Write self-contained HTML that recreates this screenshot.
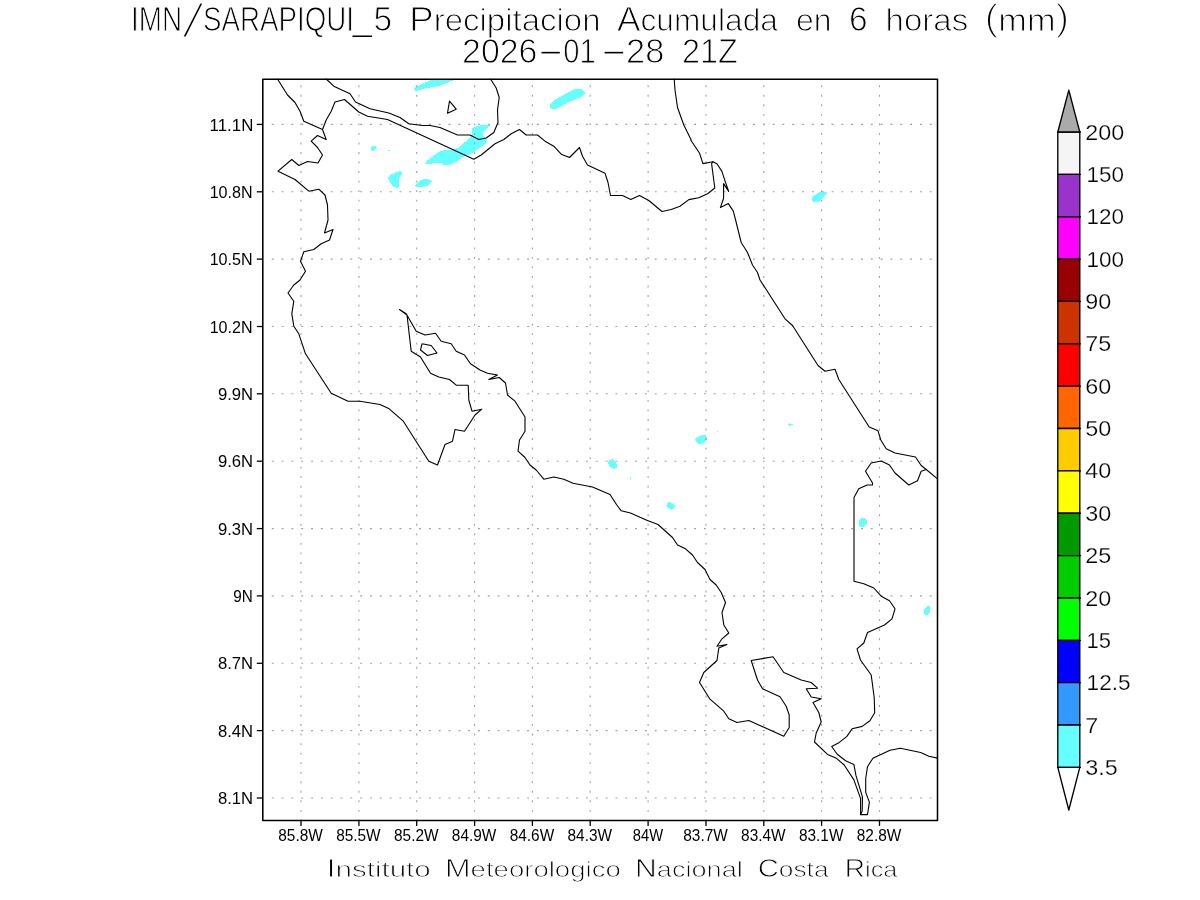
<!DOCTYPE html>
<html lang="es"><head><meta charset="utf-8"><title>IMN/SARAPIQUI_5 Precipitacion Acumulada en 6 horas (mm) 2026-01-28 21Z</title>
<style>
html,body{margin:0;padding:0;background:#fff;}
body{width:1200px;height:900px;overflow:hidden;}
svg{display:block;}
text{font-family:"Liberation Sans",sans-serif;}
</style></head><body>
<svg width="1200" height="900" viewBox="0 0 1200 900">
<rect width="1200" height="900" fill="#fff"/>
<g fill="#66ffff" shape-rendering="crispEdges">
<polygon points="413.75,89.2 415.8,87.1 420.8,84.6 425.8,82.3 431.25,80.2 453.3,80.2 446.7,83.3 440,85.4 433.3,87.1 427.5,87.9 420.8,89.8 416.7,90.8 414.6,90.4"/>
<polygon points="425,164.5 426.5,161 432,157 438,152.5 444,150 452,149.8 459,147.5 465,142 470.5,137 472,135 472.2,128.5 476,126.5 481,125.2 490,125 487,128.5 483,133 483.5,136 487,139.5 485.5,143.5 480,147.5 474,152 468,155 462,157.5 456,162 451,164.5 447.5,165.5 443,164.5 441,163 434,163 429,164"/>
<polygon points="388,178 390,175 396,172.5 400.5,171 402,173 401.5,175.5 399,179 398.5,187 397,187.8 393,186.5 390,182.5"/>
<polygon points="415,186 417.5,183 421,180 425,179 429,179.2 432,181.5 430,184 427,186.2 421,186.8 416.5,186.8"/>
<polygon points="371,147.3 372.1,146 375.8,146 377.1,147.5 375,149.8 372.9,150.8 372.1,150.8 371,149.6"/>
<polygon points="388,150 390,150 390,151 388,151"/>
<polygon points="550,104.5 554.5,100 569,92 575,89 581,89 586,93.25 581,97 574,100 568,102 562,106 556,109 552,109 550,107.5"/>
<polygon points="812,198.2 813,196.2 816,194.2 820,192 827,192 827,193.3 825,196 823,197.7 820,200.7 818,201.8 813.3,201.8 812,200.7"/>
<polygon points="695.3,439.7 697.8,437 701.7,435.2 706.1,435.2 707,438.9 705,441.7 701.7,443.7 698.3,443.7 696.1,442.2"/>
<polygon points="608,462.8 609.4,460 612.2,459.2 615,461.7 616.9,464.4 616.7,467.8 613.9,468.9 611.1,468.1 609.4,465.6"/>
<polygon points="666.1,505.6 667.2,502.8 670,502 672.8,503.3 675,506.1 673.9,508.3 671.1,509.8 668.3,508.3"/>
<polygon points="630,477 631,477 631,479 630,479"/>
<polygon points="717,431 718,431 718,432 717,432"/>
<polygon points="788,424 789,424 789,423 790,423 790,424 793,424 793,425 791,425 791,426 789,426 789,425 788,425"/>
<polygon points="859,520.25 861,518 865,518 867,520.25 867,522.75 866,524.75 863.75,527 860,527 859,525"/>
<polygon points="924,609 927,606 929,606 930,607 930,611.75 929,614 927,615 925,615 924,613.75"/>
</g>
<g stroke="#a0a0a0" stroke-width="1.1" fill="none">
<line x1="271.8" y1="124.4" x2="937.5" y2="124.4" stroke-dasharray="1.9 7.92"/>
<line x1="271.8" y1="191.8" x2="937.5" y2="191.8" stroke-dasharray="1.9 7.92"/>
<line x1="271.8" y1="259.1" x2="937.5" y2="259.1" stroke-dasharray="1.9 7.92"/>
<line x1="271.8" y1="326.5" x2="937.5" y2="326.5" stroke-dasharray="1.9 7.92"/>
<line x1="271.8" y1="393.8" x2="937.5" y2="393.8" stroke-dasharray="1.9 7.92"/>
<line x1="271.8" y1="461.2" x2="937.5" y2="461.2" stroke-dasharray="1.9 7.92"/>
<line x1="271.8" y1="528.6" x2="937.5" y2="528.6" stroke-dasharray="1.9 7.92"/>
<line x1="271.8" y1="595.9" x2="937.5" y2="595.9" stroke-dasharray="1.9 7.92"/>
<line x1="271.8" y1="663.3" x2="937.5" y2="663.3" stroke-dasharray="1.9 7.92"/>
<line x1="271.8" y1="730.6" x2="937.5" y2="730.6" stroke-dasharray="1.9 7.92"/>
<line x1="271.8" y1="798.0" x2="937.5" y2="798.0" stroke-dasharray="1.9 7.92"/>
<line x1="301.0" y1="85.3" x2="301.0" y2="820.4" stroke-dasharray="1.9 7.634"/>
<line x1="358.9" y1="85.3" x2="358.9" y2="820.4" stroke-dasharray="1.9 7.634"/>
<line x1="416.7" y1="85.3" x2="416.7" y2="820.4" stroke-dasharray="1.9 7.634"/>
<line x1="474.6" y1="85.3" x2="474.6" y2="820.4" stroke-dasharray="1.9 7.634"/>
<line x1="532.4" y1="85.3" x2="532.4" y2="820.4" stroke-dasharray="1.9 7.634"/>
<line x1="590.2" y1="85.3" x2="590.2" y2="820.4" stroke-dasharray="1.9 7.634"/>
<line x1="648.1" y1="85.3" x2="648.1" y2="820.4" stroke-dasharray="1.9 7.634"/>
<line x1="706.0" y1="85.3" x2="706.0" y2="820.4" stroke-dasharray="1.9 7.634"/>
<line x1="763.8" y1="85.3" x2="763.8" y2="820.4" stroke-dasharray="1.9 7.634"/>
<line x1="821.6" y1="85.3" x2="821.6" y2="820.4" stroke-dasharray="1.9 7.634"/>
<line x1="879.5" y1="85.3" x2="879.5" y2="820.4" stroke-dasharray="1.9 7.634"/>
</g>
<g fill="none" stroke="#000" stroke-width="1.1" stroke-linejoin="round" stroke-linecap="round">
<polyline points="277.5,79 287.5,95 295,102.5 300,111.2 303.8,121.2 322.5,129.5 326.2,139.5 317.5,135.5 311.2,141.2 317.5,147.5 322.5,155 318,163 307.5,161.5 298.8,165.5 291.8,159.5 278,171.2 295,179.5 308.8,191.2 318.8,189.2 325,195 327.5,205 328,220 324.5,233 333,229.5 329.5,240 321.2,243.8 313.8,249.5 303.8,251.8 300.5,261.2 305.5,271.2 300,280 293.8,285 288,293 293.8,301.2 291.8,313.8 293.8,326.2 298.8,333.8 305.5,353.8 331.2,393.2 348,401.2 360,401.2 380,404.5 389.2,408.8 403,420.8 428.8,461.2 437.5,465 445,444.5 452.5,441.2 455,429.5 464.5,431.2 475,415 481.8,409.2 472,411.2 468.8,400 468.2,385.2 456.2,385.2 449.5,379.5 438.8,377 430.5,373.2 420.5,357 411.2,351.2 407,315 399.5,309.5 406.2,313.8 416.2,331.2 425,335 435.5,333.2 441.2,341.2 451.2,343.8 456.2,351.2 464.5,355 470.5,363.8 480,370 487.5,373.2 497.5,375 488.8,379.5 499.2,377.5 505.5,383 507.5,395 515,401.2 525,417 525,431.2 519.5,440 518,451.2 525,457.5 530,465 536.2,470 543.8,479.2 553.8,477 563.8,479.2 573,483.2 592.5,487 610,494.5 616.8,505 621.2,510.8 630.5,513 646.2,520 658,524.5 672.5,537.5 677.5,545 685.5,548.8 692.5,555 697.5,562.5 705,569.5 710,579.5 716.2,585 721.2,592.5 725.5,602.5 722,612.5 723.8,625 728.8,633 722,638.8 717,646.2 727,644.5 718.8,648 717,660.5 703.8,672.5 699.5,682.5 710,699.2 723.8,711.2 728.8,718.8 737,722.5 748.8,720.5 783.8,736.2 789.2,727.5 789.2,715 786.2,706.2 780,696.8 762.5,688.8 757.5,680 751.2,660.5 773,656.8 783.8,672.5 801.2,680 811.2,682.5 817.5,688.2 806.2,688.8 811.2,697 821.2,698.8 813,702.5 818.8,712.5 821.2,722 816.2,733 814.5,742 827.5,754.4 836.5,758.3 844.2,765 853.9,779.9 860.6,798.6 860.6,814.6 867.5,814.6 869.4,802.1 865.7,792.4 865.7,778.5 867.5,766.7 872.9,758.3 890,750.3 900.4,748.3 920.6,752.5 928.9,756.2 937.5,758.1"/>
<polyline points="326.2,79 333.8,86.2 350,93.8 355.5,102 370,108.8 388.8,113 400,117.5 408.8,123.8 422.5,125.5 430,125.5 440,127.5 457.5,135 470,135 478.8,139.5 486.2,138 493.8,132.5 498,122.5 497.5,110 499.2,97.5 496.2,88 490.5,79"/>
<polyline points="322.5,129.5 326.2,120 331.2,111.2 335,102 344.5,99.5 358.8,112 367.5,116.2 387.5,119.5 473.8,159.2 481.2,155 495,143.8 503.8,139.5 511.2,133.8 519.5,129.5 526.2,135 537.5,135 545,141.2 553.8,146.2 561.2,154.2 569.5,157.5 579.5,147.5 582.5,156.2 587.5,165 605,173.2 608,182.5 610.5,195.5 622.5,195.5 630.8,199.5 639.5,195.5 648.8,200.5 662,211.5 671.2,209.5 680,206.2 688.9,199.6 698.7,197.8 707.6,193.8 714.8,188 711.6,163.6 712.9,161.8"/>
<polyline points="674.2,79 675,90 677.5,107.5 683.8,125 691.2,140 690.7,140 699.6,153.3 702.9,163.6 712.9,161.8 716.9,163.8 721.8,171.1 725.3,181.8 728.7,191.4 723.6,183.6 723.6,198.2 720.4,207.6 728.4,203.6 733.3,211.1 735.6,220 741.2,242.5 747.5,252.5 752.5,265 757.5,272.5 760,280 760,280 785,318.8 792.5,325.5 818,365.5 825,371.2 835,369.2 838.8,379.5 869.2,427 878,430.8 880.8,440 886.2,448.8 895,453 915.5,457 921.2,465.5 926.2,469.5 937.5,478.8"/>
<polyline points="926.2,469.5 921.2,471.2 917.5,480.8 908.8,485 895,473 889.5,465 881.2,461 871.2,463 865.5,471.2 872.5,483 872.5,485 867,485 858.8,488.8 854,497.5 854,500 854,581.2 863.8,583.8 873.8,588 881.2,596.2 889.5,600.8 895,608.8 892,618.8 884.5,625 867.5,632.5 863.8,643 857,648.8 860.5,660 871.2,675 874.2,697.5 874.7,712.8 869.9,720.8 862.2,726.4 852.1,728.8 846.9,736.4 839.3,742.4 831.7,746.5 837.2,754.2 845.6,760.7 853.9,764.6 856,775.7 862.5,797.2 862.2,811.1 860.6,814.6"/>
<polyline points="449.5,101.2 456.2,109.2 447.5,113.2 449.5,101.2"/>
<polyline points="422,343.8 431.2,345.5 437,353 427.5,355.5 420.5,350 422,343.8"/>
</g>
<rect x="262.8" y="79.2" width="674.7" height="741.2" fill="none" stroke="#000" stroke-width="1.55" stroke-linejoin="round"/>
<g stroke="#000" stroke-width="1.3">
<line x1="256.8" y1="124.4" x2="262.8" y2="124.4"/>
<line x1="256.8" y1="191.8" x2="262.8" y2="191.8"/>
<line x1="256.8" y1="259.1" x2="262.8" y2="259.1"/>
<line x1="256.8" y1="326.5" x2="262.8" y2="326.5"/>
<line x1="256.8" y1="393.8" x2="262.8" y2="393.8"/>
<line x1="256.8" y1="461.2" x2="262.8" y2="461.2"/>
<line x1="256.8" y1="528.6" x2="262.8" y2="528.6"/>
<line x1="256.8" y1="595.9" x2="262.8" y2="595.9"/>
<line x1="256.8" y1="663.3" x2="262.8" y2="663.3"/>
<line x1="256.8" y1="730.6" x2="262.8" y2="730.6"/>
<line x1="256.8" y1="798.0" x2="262.8" y2="798.0"/>
<line x1="301.0" y1="820.4" x2="301.0" y2="825.9"/>
<line x1="358.9" y1="820.4" x2="358.9" y2="825.9"/>
<line x1="416.7" y1="820.4" x2="416.7" y2="825.9"/>
<line x1="474.6" y1="820.4" x2="474.6" y2="825.9"/>
<line x1="532.4" y1="820.4" x2="532.4" y2="825.9"/>
<line x1="590.2" y1="820.4" x2="590.2" y2="825.9"/>
<line x1="648.1" y1="820.4" x2="648.1" y2="825.9"/>
<line x1="706.0" y1="820.4" x2="706.0" y2="825.9"/>
<line x1="763.8" y1="820.4" x2="763.8" y2="825.9"/>
<line x1="821.6" y1="820.4" x2="821.6" y2="825.9"/>
<line x1="879.5" y1="820.4" x2="879.5" y2="825.9"/>
</g>
<text font-family="'Liberation Sans',sans-serif" font-size="17.17" fill="#000" stroke="#fff" stroke-width="0">
<tspan x="209.62" y="130.60" textLength="43.77" lengthAdjust="spacingAndGlyphs">11.1N</tspan>
</text>
<text font-family="'Liberation Sans',sans-serif" font-size="17.17" fill="#000" stroke="#fff" stroke-width="0">
<tspan x="209.66" y="197.96" textLength="42.97" lengthAdjust="spacingAndGlyphs">10.8N</tspan>
</text>
<text font-family="'Liberation Sans',sans-serif" font-size="17.17" fill="#000" stroke="#fff" stroke-width="0">
<tspan x="209.66" y="265.32" textLength="42.97" lengthAdjust="spacingAndGlyphs">10.5N</tspan>
</text>
<text font-family="'Liberation Sans',sans-serif" font-size="17.17" fill="#000" stroke="#fff" stroke-width="0">
<tspan x="209.66" y="332.68" textLength="42.97" lengthAdjust="spacingAndGlyphs">10.2N</tspan>
</text>
<text font-family="'Liberation Sans',sans-serif" font-size="17.17" fill="#000" stroke="#fff" stroke-width="0">
<tspan x="217.93" y="400.04" textLength="35.18" lengthAdjust="spacingAndGlyphs">9.9N</tspan>
</text>
<text font-family="'Liberation Sans',sans-serif" font-size="17.17" fill="#000" stroke="#fff" stroke-width="0">
<tspan x="217.93" y="467.40" textLength="35.18" lengthAdjust="spacingAndGlyphs">9.6N</tspan>
</text>
<text font-family="'Liberation Sans',sans-serif" font-size="17.17" fill="#000" stroke="#fff" stroke-width="0">
<tspan x="217.93" y="534.76" textLength="35.18" lengthAdjust="spacingAndGlyphs">9.3N</tspan>
</text>
<text font-family="'Liberation Sans',sans-serif" font-size="17.17" fill="#000" stroke="#fff" stroke-width="0">
<tspan x="233.21" y="602.12" textLength="19.52" lengthAdjust="spacingAndGlyphs">9N</tspan>
</text>
<text font-family="'Liberation Sans',sans-serif" font-size="17.17" fill="#000" stroke="#fff" stroke-width="0">
<tspan x="217.93" y="669.48" textLength="35.18" lengthAdjust="spacingAndGlyphs">8.7N</tspan>
</text>
<text font-family="'Liberation Sans',sans-serif" font-size="17.17" fill="#000" stroke="#fff" stroke-width="0">
<tspan x="217.93" y="736.84" textLength="35.18" lengthAdjust="spacingAndGlyphs">8.4N</tspan>
</text>
<text font-family="'Liberation Sans',sans-serif" font-size="17.17" fill="#000" stroke="#fff" stroke-width="0">
<tspan x="217.93" y="804.20" textLength="35.18" lengthAdjust="spacingAndGlyphs">8.1N</tspan>
</text>
<text font-family="'Liberation Sans',sans-serif" font-size="17.17" fill="#000" stroke="#fff" stroke-width="0">
<tspan x="278.30" y="840.80" textLength="44.53" lengthAdjust="spacingAndGlyphs">85.8W</tspan>
</text>
<text font-family="'Liberation Sans',sans-serif" font-size="17.17" fill="#000" stroke="#fff" stroke-width="0">
<tspan x="336.15" y="840.80" textLength="44.53" lengthAdjust="spacingAndGlyphs">85.5W</tspan>
</text>
<text font-family="'Liberation Sans',sans-serif" font-size="17.17" fill="#000" stroke="#fff" stroke-width="0">
<tspan x="394.00" y="840.80" textLength="44.53" lengthAdjust="spacingAndGlyphs">85.2W</tspan>
</text>
<text font-family="'Liberation Sans',sans-serif" font-size="17.17" fill="#000" stroke="#fff" stroke-width="0">
<tspan x="451.85" y="840.80" textLength="44.53" lengthAdjust="spacingAndGlyphs">84.9W</tspan>
</text>
<text font-family="'Liberation Sans',sans-serif" font-size="17.17" fill="#000" stroke="#fff" stroke-width="0">
<tspan x="509.70" y="840.80" textLength="44.53" lengthAdjust="spacingAndGlyphs">84.6W</tspan>
</text>
<text font-family="'Liberation Sans',sans-serif" font-size="17.17" fill="#000" stroke="#fff" stroke-width="0">
<tspan x="567.55" y="840.80" textLength="44.53" lengthAdjust="spacingAndGlyphs">84.3W</tspan>
</text>
<text font-family="'Liberation Sans',sans-serif" font-size="17.17" fill="#000" stroke="#fff" stroke-width="0">
<tspan x="632.84" y="840.80" textLength="30.30" lengthAdjust="spacingAndGlyphs">84W</tspan>
</text>
<text font-family="'Liberation Sans',sans-serif" font-size="17.17" fill="#000" stroke="#fff" stroke-width="0">
<tspan x="683.25" y="840.80" textLength="44.53" lengthAdjust="spacingAndGlyphs">83.7W</tspan>
</text>
<text font-family="'Liberation Sans',sans-serif" font-size="17.17" fill="#000" stroke="#fff" stroke-width="0">
<tspan x="741.10" y="840.80" textLength="44.53" lengthAdjust="spacingAndGlyphs">83.4W</tspan>
</text>
<text font-family="'Liberation Sans',sans-serif" font-size="17.17" fill="#000" stroke="#fff" stroke-width="0">
<tspan x="798.95" y="840.80" textLength="44.53" lengthAdjust="spacingAndGlyphs">83.1W</tspan>
</text>
<text font-family="'Liberation Sans',sans-serif" font-size="17.17" fill="#000" stroke="#fff" stroke-width="0">
<tspan x="856.80" y="840.80" textLength="44.53" lengthAdjust="spacingAndGlyphs">82.8W</tspan>
</text>
<g stroke="#000" stroke-width="1.35" stroke-linejoin="round" stroke-linecap="round">
<rect x="1057.8" y="132.00" width="22" height="42.36" fill="#f5f5f5"/>
<rect x="1057.8" y="174.36" width="22" height="42.36" fill="#9933cc"/>
<rect x="1057.8" y="216.72" width="22" height="42.36" fill="#ff00ff"/>
<rect x="1057.8" y="259.08" width="22" height="42.36" fill="#990000"/>
<rect x="1057.8" y="301.44" width="22" height="42.36" fill="#cc3300"/>
<rect x="1057.8" y="343.80" width="22" height="42.36" fill="#ff0000"/>
<rect x="1057.8" y="386.16" width="22" height="42.36" fill="#ff6600"/>
<rect x="1057.8" y="428.52" width="22" height="42.36" fill="#ffcc00"/>
<rect x="1057.8" y="470.88" width="22" height="42.36" fill="#ffff00"/>
<rect x="1057.8" y="513.24" width="22" height="42.36" fill="#009900"/>
<rect x="1057.8" y="555.60" width="22" height="42.36" fill="#00cc00"/>
<rect x="1057.8" y="597.96" width="22" height="42.36" fill="#00ff00"/>
<rect x="1057.8" y="640.32" width="22" height="42.36" fill="#0000ff"/>
<rect x="1057.8" y="682.68" width="22" height="42.36" fill="#3399ff"/>
<rect x="1057.8" y="725.04" width="22" height="42.36" fill="#66ffff"/>
<polygon points="1057.8,132 1068.8,90.1 1079.8,132" fill="#aaaaaa"/>
<polygon points="1057.8,767.4 1068.8,810.0 1079.8,767.4" fill="#ffffff"/>
<line x1="1079.8" y1="132.00" x2="1080.3" y2="132.00"/>
<line x1="1079.8" y1="174.36" x2="1080.3" y2="174.36"/>
<line x1="1079.8" y1="216.72" x2="1080.3" y2="216.72"/>
<line x1="1079.8" y1="259.08" x2="1080.3" y2="259.08"/>
<line x1="1079.8" y1="301.44" x2="1080.3" y2="301.44"/>
<line x1="1079.8" y1="343.80" x2="1080.3" y2="343.80"/>
<line x1="1079.8" y1="386.16" x2="1080.3" y2="386.16"/>
<line x1="1079.8" y1="428.52" x2="1080.3" y2="428.52"/>
<line x1="1079.8" y1="470.88" x2="1080.3" y2="470.88"/>
<line x1="1079.8" y1="513.24" x2="1080.3" y2="513.24"/>
<line x1="1079.8" y1="555.60" x2="1080.3" y2="555.60"/>
<line x1="1079.8" y1="597.96" x2="1080.3" y2="597.96"/>
<line x1="1079.8" y1="640.32" x2="1080.3" y2="640.32"/>
<line x1="1079.8" y1="682.68" x2="1080.3" y2="682.68"/>
<line x1="1079.8" y1="725.04" x2="1080.3" y2="725.04"/>
<line x1="1079.8" y1="767.40" x2="1080.3" y2="767.40"/>
</g>
<text font-family="'Liberation Sans',sans-serif" font-size="21.64" fill="#000" stroke="#fff" stroke-width="0.25">
<tspan x="1085.22" y="139.60" textLength="38.96" lengthAdjust="spacingAndGlyphs">200</tspan>
</text>
<text font-family="'Liberation Sans',sans-serif" font-size="21.64" fill="#000" stroke="#fff" stroke-width="0.25">
<tspan x="1086.60" y="181.96" textLength="37.54" lengthAdjust="spacingAndGlyphs">150</tspan>
</text>
<text font-family="'Liberation Sans',sans-serif" font-size="21.64" fill="#000" stroke="#fff" stroke-width="0.25">
<tspan x="1086.60" y="224.32" textLength="37.54" lengthAdjust="spacingAndGlyphs">120</tspan>
</text>
<text font-family="'Liberation Sans',sans-serif" font-size="21.64" fill="#000" stroke="#fff" stroke-width="0.25">
<tspan x="1086.60" y="266.68" textLength="37.54" lengthAdjust="spacingAndGlyphs">100</tspan>
</text>
<text font-family="'Liberation Sans',sans-serif" font-size="21.64" fill="#000" stroke="#fff" stroke-width="0.25">
<tspan x="1085.22" y="309.04" textLength="25.97" lengthAdjust="spacingAndGlyphs">90</tspan>
</text>
<text font-family="'Liberation Sans',sans-serif" font-size="21.64" fill="#000" stroke="#fff" stroke-width="0.25">
<tspan x="1085.22" y="351.40" textLength="25.97" lengthAdjust="spacingAndGlyphs">75</tspan>
</text>
<text font-family="'Liberation Sans',sans-serif" font-size="21.64" fill="#000" stroke="#fff" stroke-width="0.25">
<tspan x="1085.22" y="393.76" textLength="25.97" lengthAdjust="spacingAndGlyphs">60</tspan>
</text>
<text font-family="'Liberation Sans',sans-serif" font-size="21.64" fill="#000" stroke="#fff" stroke-width="0.25">
<tspan x="1085.22" y="436.12" textLength="25.97" lengthAdjust="spacingAndGlyphs">50</tspan>
</text>
<text font-family="'Liberation Sans',sans-serif" font-size="21.64" fill="#000" stroke="#fff" stroke-width="0.25">
<tspan x="1085.22" y="478.48" textLength="25.97" lengthAdjust="spacingAndGlyphs">40</tspan>
</text>
<text font-family="'Liberation Sans',sans-serif" font-size="21.64" fill="#000" stroke="#fff" stroke-width="0.25">
<tspan x="1085.22" y="520.84" textLength="25.97" lengthAdjust="spacingAndGlyphs">30</tspan>
</text>
<text font-family="'Liberation Sans',sans-serif" font-size="21.64" fill="#000" stroke="#fff" stroke-width="0.25">
<tspan x="1085.22" y="563.20" textLength="25.97" lengthAdjust="spacingAndGlyphs">25</tspan>
</text>
<text font-family="'Liberation Sans',sans-serif" font-size="21.64" fill="#000" stroke="#fff" stroke-width="0.25">
<tspan x="1085.22" y="605.56" textLength="25.97" lengthAdjust="spacingAndGlyphs">20</tspan>
</text>
<text font-family="'Liberation Sans',sans-serif" font-size="21.64" fill="#000" stroke="#fff" stroke-width="0.25">
<tspan x="1086.64" y="647.92" textLength="24.48" lengthAdjust="spacingAndGlyphs">15</tspan>
</text>
<text font-family="'Liberation Sans',sans-serif" font-size="21.64" fill="#000" stroke="#fff" stroke-width="0.25">
<tspan x="1086.59" y="690.28" textLength="44.03" lengthAdjust="spacingAndGlyphs">12.5</tspan>
</text>
<text font-family="'Liberation Sans',sans-serif" font-size="21.64" fill="#000" stroke="#fff" stroke-width="0.25">
<tspan x="1085.22" y="732.64" textLength="12.99" lengthAdjust="spacingAndGlyphs">7</tspan>
</text>
<text font-family="'Liberation Sans',sans-serif" font-size="21.64" fill="#000" stroke="#fff" stroke-width="0.25">
<tspan x="1085.22" y="775.00" textLength="32.45" lengthAdjust="spacingAndGlyphs">3.5</tspan>
</text>
<text font-family="'Liberation Sans',sans-serif" font-size="34.57" fill="#000" stroke="#fff" stroke-width="1.0">
<tspan x="131.08" y="31.00" textLength="51.03" lengthAdjust="spacingAndGlyphs">IMN</tspan><tspan x="180.18" y="38.20" textLength="25.31" lengthAdjust="spacingAndGlyphs" font-size="50.29" stroke-width="2.8">/</tspan><tspan x="203.00" y="31.00" textLength="150.90" lengthAdjust="spacingAndGlyphs">SARAPIQUI</tspan><tspan x="353.00" y="32.00" textLength="18.61" lengthAdjust="spacingAndGlyphs" font-size="24.0" stroke-width="0">_</tspan><tspan x="373.57" y="31.00" textLength="18.59" lengthAdjust="spacingAndGlyphs">5</tspan> <tspan x="409.32" y="31.00" textLength="24.44" lengthAdjust="spacingAndGlyphs">P</tspan><tspan x="433.76" y="31.00" textLength="166.74" lengthAdjust="spacingAndGlyphs" font-size="31.11">recipitacion</tspan> <tspan x="616.98" y="31.00" textLength="23.50" lengthAdjust="spacingAndGlyphs">A</tspan><tspan x="640.48" y="31.00" textLength="137.43" lengthAdjust="spacingAndGlyphs" font-size="31.11">cumulada</tspan> <tspan x="795.95" y="31.00" textLength="35.53" lengthAdjust="spacingAndGlyphs" font-size="31.11">en</tspan> <tspan x="849.07" y="31.00" textLength="18.59" lengthAdjust="spacingAndGlyphs">6</tspan> <tspan x="885.62" y="31.00" textLength="82.52" lengthAdjust="spacingAndGlyphs" font-size="31.11">horas</tspan> <tspan x="984.51" y="30.20" textLength="13.81" lengthAdjust="spacingAndGlyphs" font-size="36.74" stroke-width="1.5">(</tspan><tspan x="998.39" y="31.00" textLength="57.25" lengthAdjust="spacingAndGlyphs" font-size="31.11">mm</tspan><tspan x="1055.64" y="30.20" textLength="13.81" lengthAdjust="spacingAndGlyphs" font-size="36.74" stroke-width="1.5">)</tspan>
</text>
<text font-family="'Liberation Sans',sans-serif" font-size="34.57" fill="#000" stroke="#fff" stroke-width="1.0">
<tspan x="462.04" y="62.70" textLength="75.42" lengthAdjust="spacingAndGlyphs">2026</tspan><tspan x="536.57" y="61.70" textLength="28.38" lengthAdjust="spacingAndGlyphs">-</tspan><tspan x="563.31" y="62.70" textLength="32.52" lengthAdjust="spacingAndGlyphs">01</tspan><tspan x="599.40" y="61.70" textLength="28.79" lengthAdjust="spacingAndGlyphs">-</tspan><tspan x="626.11" y="62.70" textLength="38.23" lengthAdjust="spacingAndGlyphs">28</tspan> <tspan x="681.88" y="62.70" textLength="55.84" lengthAdjust="spacingAndGlyphs">21Z</tspan>
</text>
<text font-family="'Liberation Sans',sans-serif" font-size="25.22" fill="#000" stroke="#fff" stroke-width="0.8">
<tspan x="326.40" y="877.30" textLength="9.13" lengthAdjust="spacingAndGlyphs">I</tspan><tspan x="335.52" y="877.30" textLength="95.18" lengthAdjust="spacingAndGlyphs" font-size="22.7">nstituto</tspan> <tspan x="445.07" y="877.30" textLength="25.53" lengthAdjust="spacingAndGlyphs">M</tspan><tspan x="470.60" y="877.30" textLength="150.16" lengthAdjust="spacingAndGlyphs" font-size="22.7">eteorologico</tspan> <tspan x="635.11" y="877.30" textLength="21.76" lengthAdjust="spacingAndGlyphs">N</tspan><tspan x="656.88" y="877.30" textLength="85.90" lengthAdjust="spacingAndGlyphs" font-size="22.7">acional</tspan> <tspan x="757.68" y="877.30" textLength="21.12" lengthAdjust="spacingAndGlyphs">C</tspan><tspan x="778.80" y="877.30" textLength="49.73" lengthAdjust="spacingAndGlyphs" font-size="22.7">osta</tspan> <tspan x="844.77" y="877.30" textLength="20.27" lengthAdjust="spacingAndGlyphs">R</tspan><tspan x="865.05" y="877.30" textLength="32.28" lengthAdjust="spacingAndGlyphs" font-size="22.7">ica</tspan>
</text>
</svg></body></html>
